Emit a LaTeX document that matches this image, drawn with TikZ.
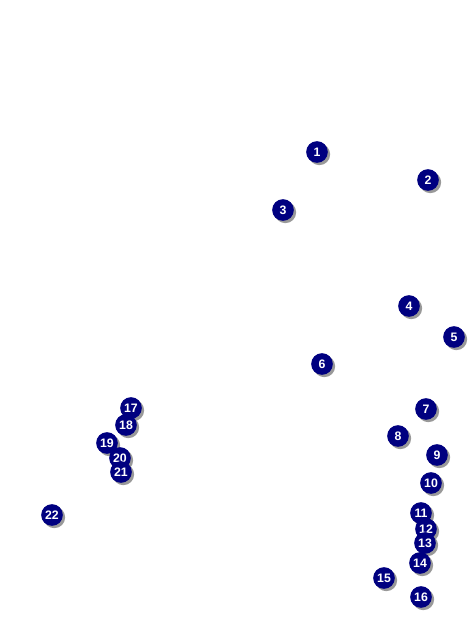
\documentclass[tikz,border=0pt]{standalone}
\usepackage{fontspec}
\setmainfont{Liberation Sans}
\usepackage{xcolor}
\definecolor{pinBlue}{HTML}{000080}
\usepackage{tikz}
\usetikzlibrary{shadows}

\begin{document}
\begin{tikzpicture}[x=0.03cm, y=-0.03cm,
    marker/.style={circle, fill=pinBlue, inner sep=0pt, minimum size=0.65cm,
      text=white, font=\fontsize{10.5}{10.5}\selectfont\bfseries,
      drop shadow={shadow xshift=0.07cm, shadow yshift=-0.07cm, fill=black!40, opacity=1}}]
  \useasboundingbox (0,0) rectangle (475,642);
  % numbered markers
  \foreach \n/\x/\y in {1/317/152, 2/428/180, 3/283/210, 4/409/306, 5/454/337,
      6/322/364, 7/426/409, 8/398/436, 9/437/455, 10/431/483,
      11/421/513, 12/426/529, 13/425/543, 14/420/563, 15/384/578,
      16/421/597, 17/131/408, 18/126/425, 19/107/443, 20/120/458,
      21/121/472, 22/52/515}
    \node[marker] (m\n) at (\x,\y) {\n};
\end{tikzpicture}
\end{document}
